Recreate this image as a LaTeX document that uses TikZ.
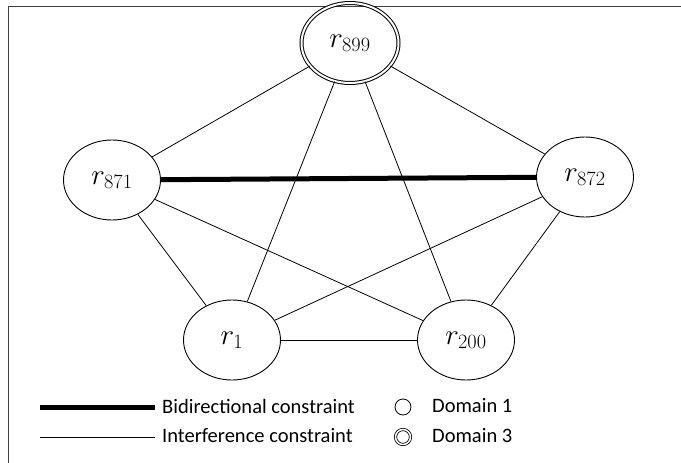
\RequirePackage{fix-cm}
\documentclass[tikz,border=0pt]{standalone}
\usepackage[no-math]{fontspec}
\setmainfont{Carlito}
\usetikzlibrary{shapes.geometric}
\definecolor{framegray}{RGB}{64,64,64}

\begin{document}
\begin{tikzpicture}[x=1pt,y=-1pt,
    site/.style={ellipse,draw,line width=0.9pt,inner sep=0pt,
        minimum width=97pt,minimum height=80pt,font=\fontsize{29}{33}\selectfont},
    sitedbl/.style={site,double,double distance=2pt,line width=1pt},
    link/.style={line width=0.8pt},
    bilink/.style={line width=5pt},
    legtext/.style={anchor=west,inner sep=0pt,font=\fontsize{20.5}{24}\selectfont}]
    \useasboundingbox (0,0) rectangle (681,463);

    % frame
    \draw[framegray,line width=1.6pt] (8.5,463) -- (8.5,6.5) -- (681,6.5);

    % resources
    \node[sitedbl] (r899) at (350,43) {$r_{899}$};
    \node[site] (r871) at (112,180) {$r_{871}$};
    \node[site] (r872) at (585,177) {$r_{872}$};
    \node[site] (r1) at (232,340) {$r_{1}$};
    \node[site] (r200) at (466,340) {$r_{200}$};

    % constraints
    \draw[link] (r899) -- (r871);
    \draw[link] (r899) -- (r872);
    \draw[link] (r899) -- (r1);
    \draw[link] (r899) -- (r200);
    \draw[link] (r871) -- (r1);
    \draw[link] (r871) -- (r200);
    \draw[link] (r872) -- (r1);
    \draw[link] (r872) -- (r200);
    \draw[link] (r1) -- (r200);
    \draw[bilink] (r871) -- (r872);

    % legend
    \coordinate (b0) at (40,407);
    \coordinate (b1) at (155,407);
    \coordinate (i0) at (40,437);
    \coordinate (i1) at (155,437);
    \draw[bilink] (b0) -- (b1);
    \draw[link] (i0) -- (i1);
    \node[legtext] (btext) at (162,406) {Bidirectional constraint};
    \node[legtext] (itext) at (162,436) {Interference constraint};
    \node[circle,draw,line width=0.8pt,minimum size=16pt,inner sep=0pt] (d1) at (403,407) {};
    \node[circle,draw,double,double distance=1.5pt,line width=0.8pt,minimum size=15pt,inner sep=0pt] (d3) at (403,437) {};
    \node[legtext] (d1text) at (432,406) {Domain 1};
    \node[legtext] (d3text) at (432,436) {Domain 3};
\end{tikzpicture}
\end{document}
